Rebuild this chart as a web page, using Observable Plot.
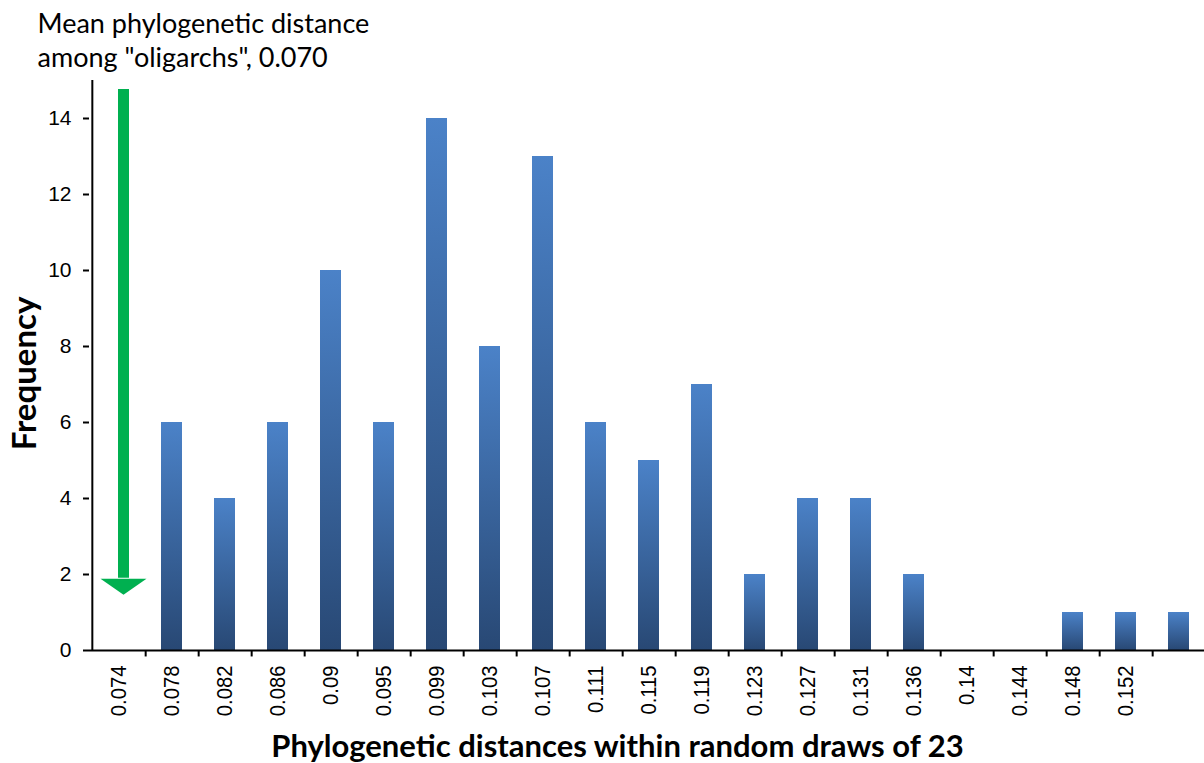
<!DOCTYPE html>
<html><head><meta charset="utf-8">
<script src="https://cdn.jsdelivr.net/npm/d3@7"></script>
<script src="https://cdn.jsdelivr.net/npm/@observablehq/plot@0.6"></script>
<style>html,body{margin:0;padding:0;overflow:hidden;background:#fff}</style>
</head><body><div id="chart"></div>
<script>
// ---- data ----
const bins = ["0.074","0.078","0.082","0.086","0.09","0.095","0.099","0.103","0.107","0.111","0.115","0.119","0.123","0.127","0.131","0.136","0.14","0.144","0.148","0.152","0.156"];
const tickLabels = ["0.074","0.078","0.082","0.086","0.09","0.095","0.099","0.103","0.107","0.111","0.115","0.119","0.123","0.127","0.131","0.136","0.14","0.144","0.148","0.152",""];
const frequency = [0,6,4,6,10,6,14,8,13,6,5,7,2,4,4,2,0,0,1,1,1];
const yTicks = [0,2,4,6,8,10,12,14];
const yDomain = [0,15];
const annotationText = "Mean phylogenetic distance\namong \"oligarchs\", 0.070";
const arrowBin = ["0.074"];
const arrowTop = 14.76, arrowBase = 1.9, arrowTip = 1.47;
const xTitle = "Phylogenetic distances within random draws of 23";
const yTitle = "Frequency";

const data = bins.map((b, i) => ({bin: b, freq: frequency[i]}));

// ---- layout ----
const W = 1209, H = 763, ML = 89, MR = 0, MT = 80, MB = 113;
const half = (W - ML - MR) / bins.length / 2;
const green = "#00b050";
const calibri = "Lato, 'Open Sans', sans-serif";

const arrowHead = {draw(ctx) { ctx.moveTo(0, 0); ctx.lineTo(-23, -16); ctx.lineTo(23, -16); ctx.closePath(); }};

const svg = Plot.plot({
  width: W, height: H,
  marginLeft: ML, marginRight: MR, marginTop: MT, marginBottom: MB,
  style: {fontFamily: "'Liberation Sans', Arial, sans-serif", fontSize: "21px", color: "#000", background: "#fff", overflow: "visible", maxWidth: "none"},
  x: {domain: bins, paddingInner: 0.6, paddingOuter: 0.3, align: 0.5},
  y: {domain: yDomain},
  marks: [
    Plot.barY(data, {x: "bin", y: "freq", fill: "url(#barGrad)"}),
    Plot.axisY({ticks: yTicks, tickSize: 6, tickPadding: 12, strokeWidth: 2, label: null, fontSize: 21}),
    Plot.axisX({tickSize: 0, tickPadding: 15, tickRotate: -90, label: null, fontSize: 22,
      tickFormat: d => tickLabels[bins.indexOf(d)]}),
    Plot.ruleY([0], {stroke: "#000", strokeWidth: 2}),
    Plot.ruleX(arrowBin, {x: d => d, y1: yDomain[0], y2: yDomain[1], dx: -half, stroke: "#000", strokeWidth: 2}),
    Plot.ruleX(bins.slice(0, bins.length - 1), {x: d => d, y1: 0, y2: -0.17, dx: half, stroke: "#000", strokeWidth: 2}),
    Plot.ruleX(arrowBin, {x: d => d, y1: arrowTop, y2: arrowBase, dx: 4.5, stroke: green, strokeWidth: 11}),
    Plot.dot(arrowBin, {x: d => d, y: arrowTip, dx: 4.5, symbol: arrowHead, fill: green, stroke: "none", r: 10}),
    Plot.text([annotationText], {frameAnchor: "top-left", dx: -52, dy: -72, textAnchor: "start", lineAnchor: "top",
      fontFamily: calibri, fontSize: 27, lineHeight: 1.26, fill: "#000"}),
    Plot.text([yTitle], {frameAnchor: "left", dx: -64, dy: 8, rotate: -90, textAnchor: "middle", lineAnchor: "middle",
      fontFamily: calibri, fontWeight: "bold", fontSize: 33, fill: "#000"}),
    Plot.text([xTitle], {frameAnchor: "bottom", dx: -32, dy: 106, textAnchor: "middle", lineAnchor: "bottom",
      fontFamily: calibri, fontWeight: "bold", fontSize: 31, fill: "#000"})
  ]
});

svg.style.maxWidth = "none";
const defs = d3.select(svg).insert("defs", ":first-child");
const grad = defs.append("linearGradient").attr("id", "barGrad").attr("x1", 0).attr("y1", 0).attr("x2", 0).attr("y2", 1);
grad.append("stop").attr("offset", "0%").attr("stop-color", "#4b82c8");
grad.append("stop").attr("offset", "100%").attr("stop-color", "#284874");

d3.select(svg).selectAll('g[aria-label="x-axis tick label"] text').each(function() {
  const t = this.getAttribute("transform") || "";
  this.setAttribute("transform", t + " scale(0.92,1)");
});

document.getElementById("chart").appendChild(svg);
</script>
</body></html>
